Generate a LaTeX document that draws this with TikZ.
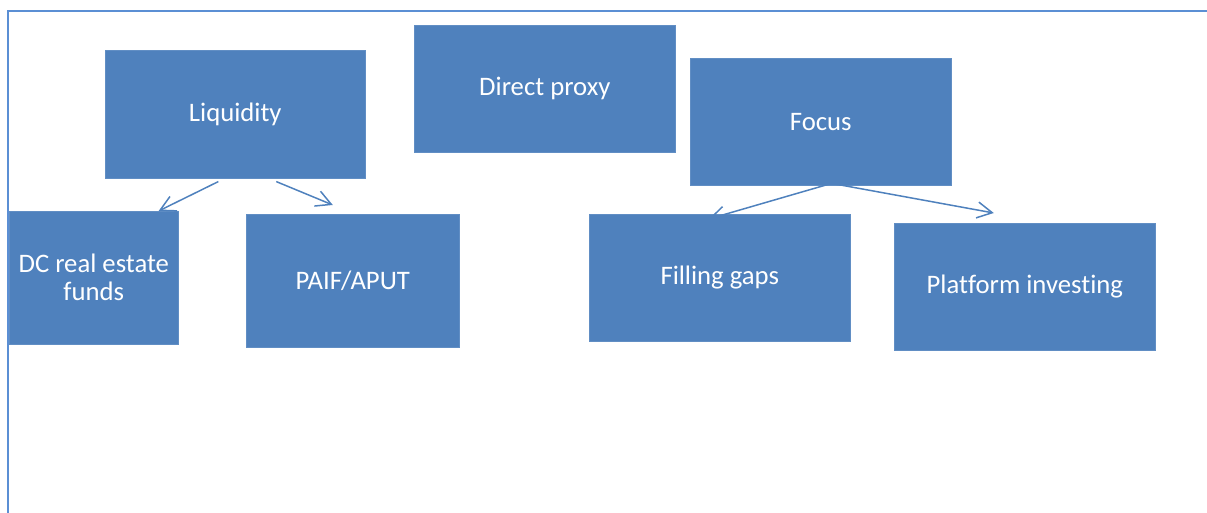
\documentclass[tikz,border=0pt]{standalone}
\usepackage{fontspec}
\setmainfont{Carlito}[Ligatures={NoCommon}]
\usetikzlibrary{arrows.meta}
\definecolor{boxblue}{HTML}{4F81BD}
\definecolor{frameblue}{HTML}{5B8FD4}
\tikzset{
  box/.style={fill=boxblue, draw=boxblue!90!white, line width=0.6pt, text=white, inner sep=0pt, anchor=north west,
    font=\fontsize{26.7}{28}\selectfont, align=center},
  arr/.style={draw=boxblue, line width=1.5pt, -{Straight Barb[length=15pt,width=16pt,line width=1.5pt]}},
  frame/.style={draw=frameblue, line width=2pt}
}
\begin{document}
\begin{tikzpicture}[x=1pt,y=1pt]
\useasboundingbox (0,0) rectangle (1207,-513);
\draw[frame] (8,-513) -- (8,-11) -- (1207,-11);
\node[box, minimum width=260pt, minimum height=128pt] (liq) at (105,-50) {Liquidity};
\node[box, minimum width=261pt, minimum height=127pt] (dp) at (414,-25) {Direct proxy};
\node[box, minimum width=261pt, minimum height=127pt] (foc) at (690,-58) {Focus};
\node[box, minimum width=169pt, minimum height=133pt] (dc) at (9,-211) {DC real estate\\funds};
\node[box, minimum width=213pt, minimum height=133pt] (paif) at (246,-214) {PAIF/APUT};
\node[box, minimum width=261pt, minimum height=127pt] (fill) at (589,-214) {Filling gaps};
\node[box, minimum width=261pt, minimum height=127pt] (plat) at (894,-223) {Platform investing};
\draw[arr] ([xshift=-17pt,yshift=-3pt]liq.south) -- ([xshift=-20pt,yshift=0pt]dc.north east);
\draw[arr] ([xshift=41pt,yshift=-3pt]liq.south) -- ([xshift=-20pt,yshift=9pt]paif.north);
\draw[arr] ([xshift=10pt,yshift=2pt]foc.south) -- ([xshift=-11pt,yshift=-5pt]fill.north);
\draw[arr] ([xshift=12pt,yshift=2pt]foc.south) -- ([xshift=-31pt,yshift=10pt]plat.north);
\end{tikzpicture}
\end{document}
